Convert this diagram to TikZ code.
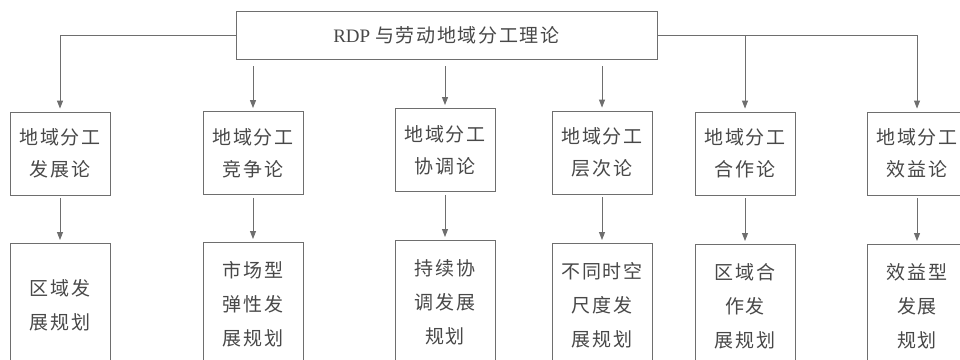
\documentclass[tikz,border=0pt]{standalone}
\usepackage{fontspec}
\setmainfont{Liberation Serif}
\newfontfamily\cjk[LetterSpace=9]{Noto Sans CJK SC}
\usetikzlibrary{arrows.meta}
\definecolor{linegray}{HTML}{6E6E6E}
\definecolor{textgray}{HTML}{484848}
\begin{document}
\begin{tikzpicture}[x=1pt,y=-1pt,
  box/.style={draw=linegray, line width=0.9pt, minimum width=100pt, inner sep=0pt,
    align=center, text=textgray, font=\fontsize{19}{32}\selectfont\cjk},
  plan/.style={box, minimum height=123pt, anchor=north, font=\fontsize{19}{34}\selectfont\cjk},
  mid/.style={box, minimum height=83pt},
  conn/.style={draw=linegray, line width=0.9pt},
  arr/.style={conn, -{Triangle[length=8pt,width=6pt]}, shorten >=3pt}]
\useasboundingbox (0,0) rectangle (960,359);
\clip (0,0) rectangle (960,359);
\fill[white] (0,0) rectangle (960,359);

\node[draw=linegray, line width=0.9pt, minimum width=421pt, minimum height=48pt,
  inner sep=0pt, text=textgray, font=\fontsize{19}{20}\selectfont] (top) at (446.5,35)
  {RDP {\cjk 与劳动地域分工理论}};

\node[mid] (m1) at (60,153.5) {地域分工\\发展论};
\node[mid] (m2) at (253,153) {地域分工\\竞争论};
\node[mid] (m3) at (445,150) {地域分工\\协调论};
\node[mid] (m4) at (602,152.5) {地域分工\\层次论};
\node[mid] (m5) at (745,153.5) {地域分工\\合作论};
\node[mid] (m6) at (917,153.5) {地域分工\\效益论};

\node[plan] (p1) at (60,243) {区域发\\展规划};
\node[plan] (p2) at (253,242) {市场型\\弹性发\\展规划};
\node[plan] (p3) at (445,240) {持续协\\调发展\\规划};
\node[plan] (p4) at (602,243) {不同时空\\尺度发\\展规划};
\node[plan] (p5) at (745,244) {区域合\\作发\\展规划};
\node[plan] (p6) at (917,244) {效益型\\发展\\规划};

\draw[arr] (top.west) -| (m1.north);
\draw[arr] (top.east) -| (m6.north);
\draw[arr] (top.east -| m5.north) -- (m5.north);
\draw[arr, shorten <=7pt] (top.south -| m2.north) -- (m2.north);
\draw[arr, shorten <=7pt] (top.south -| m3.north) -- (m3.north);
\draw[arr, shorten <=7pt] (top.south -| m4.north) -- (m4.north);

\foreach \i in {1,...,6}{
  \draw[arr, shorten <=3pt] (m\i.south) -- (p\i.north);
}
\end{tikzpicture}
\end{document}
